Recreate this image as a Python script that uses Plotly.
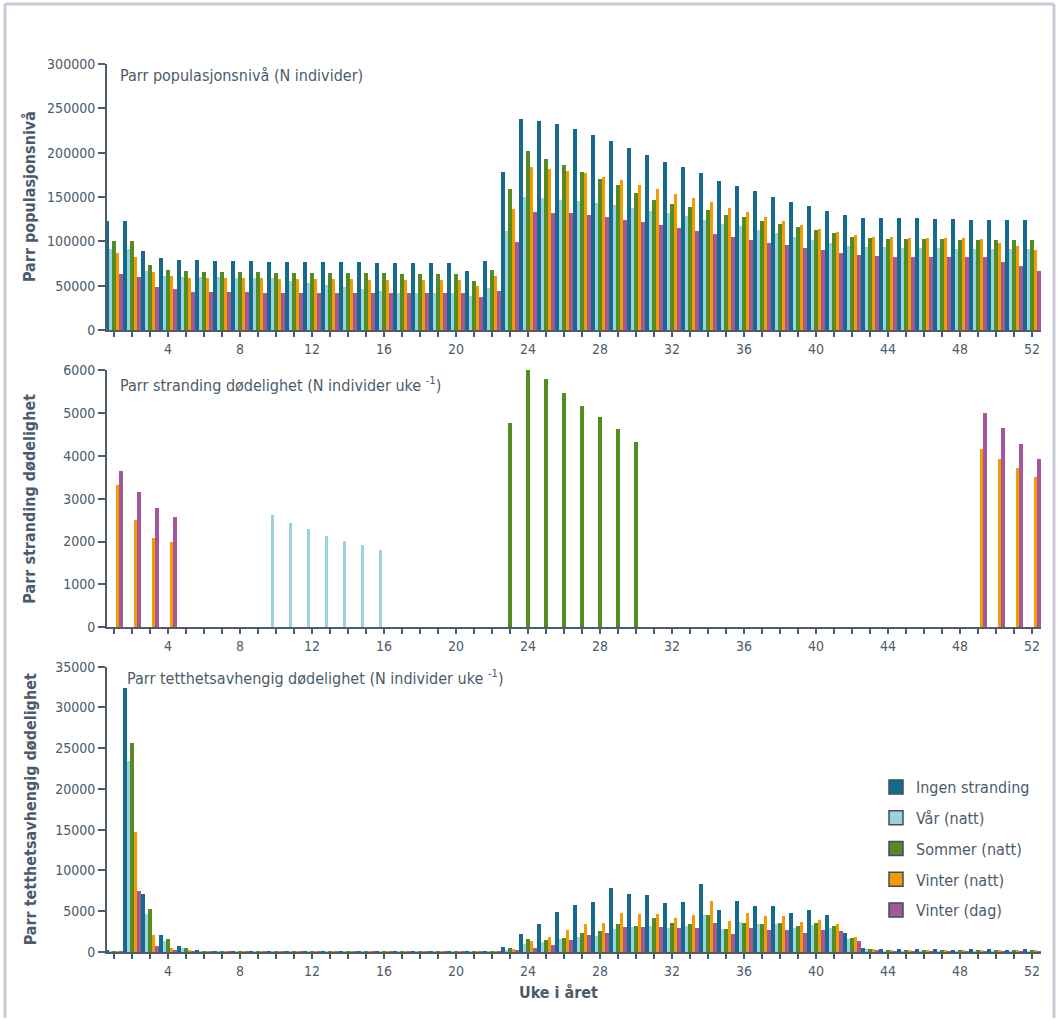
import plotly.graph_objects as go

# ---------------- data ----------------
weeks = list(range(1, 53))
series_names = ["Ingen stranding", "Vår (natt)", "Sommer (natt)", "Vinter (natt)", "Vinter (dag)"]
series_colors = ["#156b8b", "#9bd3dc", "#548b23", "#f59b00", "#a6569b"]

# Parr population level (N individuals)
pop_ingen = [123000, 123000, 89200, 81300, 79000, 79000, 77900, 77900, 77900, 76800,
             76800, 76800, 76800, 76800, 76800, 75700, 75700, 75700, 75700, 75700,
             66600, 77900, 178400, 238300, 236000, 232600, 227000, 220200, 213400, 205500,
             197600, 189700, 184100, 177300, 168300, 162600, 157000, 150200, 144500, 140000,
             134400, 129900, 126500, 126500, 126500, 126500, 125300, 125300, 124200, 124200,
             124200, 124200]
pop_var = [91500, 91500, 66600, 61000, 59800, 59800, 59800, 58700, 58700, 58700,
           55300, 53100, 50800, 48600, 46300, 44000, 41800, 41800, 41800, 41800,
           38400, 47400, 111800, 150200, 149100, 146800, 145700, 143400, 141200, 137800,
           134400, 132100, 128700, 124200, 119700, 117400, 112900, 109500, 105000, 101600,
           98200, 94900, 93700, 93700, 92600, 92600, 92600, 91500, 91500, 91500,
           91500, 91500]
pop_sommer = [100500, 100500, 73400, 67800, 66600, 65500, 65500, 65500, 65500, 64400,
              64400, 64400, 64400, 64400, 64400, 64400, 63200, 63200, 63200, 63200,
              55300, 67800, 159200, 202100, 193100, 186300, 178400, 170500, 163700, 154700,
              146800, 142300, 138900, 135500, 129900, 127600, 123100, 119700, 116300, 112900,
              109500, 105000, 103900, 102800, 102800, 102800, 102800, 101600, 101600, 101600,
              101600, 101600]
pop_vinter_natt = [86900, 82400, 65500, 61000, 58700, 58700, 58700, 58700, 58700, 57600,
                   57600, 57600, 57600, 57600, 56500, 56500, 56500, 56500, 56500, 56500,
                   49700, 61000, 136600, 184100, 181800, 179500, 177300, 172800, 169400, 163700,
                   159200, 153600, 149100, 144500, 137800, 133300, 127600, 123100, 118600, 114000,
                   110700, 107300, 105000, 105000, 103900, 103900, 103900, 103900, 102800, 98200,
                   94900, 90300]
pop_vinter_dag = [63600, 59800, 48600, 46300, 42900, 42900, 42900, 42900, 41800, 41800,
                  41800, 41800, 41800, 41800, 41800, 41800, 41800, 41800, 41800, 41800,
                  37300, 44000, 99400, 133300, 132100, 132100, 129900, 127600, 124200, 122000,
                  118600, 115200, 111800, 108400, 105000, 101600, 98200, 96000, 92600, 90300,
                  87000, 84700, 83600, 82400, 82400, 82400, 82400, 82400, 82400, 76800,
                  72300, 66600]

# Parr stranding mortality (N individuals per week)
str_ingen = [0] * 52
str_var = [0, 0, 0, 0, 0, 0, 0, 0, 0, 2620,
           2430, 2290, 2130, 2010, 1920, 1800, 0, 0, 0, 0,
           0, 0, 0, 0, 0, 0, 0, 0, 0, 0,
           0, 0, 0, 0, 0, 0, 0, 0, 0, 0,
           0, 0, 0, 0, 0, 0, 0, 0, 0, 0,
           0, 0]
str_sommer = [0, 0, 0, 0, 0, 0, 0, 0, 0, 0,
              0, 0, 0, 0, 0, 0, 0, 0, 0, 0,
              0, 0, 4760, 6160, 5790, 5460, 5160, 4900, 4620, 4320,
              0, 0, 0, 0, 0, 0, 0, 0, 0, 0,
              0, 0, 0, 0, 0, 0, 0, 0, 0, 0,
              0, 0]
str_vinter_natt = [3320, 2500, 2080, 1990, 0, 0, 0, 0, 0, 0,
                   0, 0, 0, 0, 0, 0, 0, 0, 0, 0,
                   0, 0, 0, 0, 0, 0, 0, 0, 0, 0,
                   0, 0, 0, 0, 0, 0, 0, 0, 0, 0,
                   0, 0, 0, 0, 0, 0, 0, 0, 4160, 3925,
                   3715, 3505]
str_vinter_dag = [3645, 3155, 2780, 2575, 0, 0, 0, 0, 0, 0,
                  0, 0, 0, 0, 0, 0, 0, 0, 0, 0,
                  0, 0, 0, 0, 0, 0, 0, 0, 0, 0,
                  0, 0, 0, 0, 0, 0, 0, 0, 0, 0,
                  0, 0, 0, 0, 0, 0, 0, 0, 5000, 4650,
                  4275, 3925]

# Parr density-dependent mortality (N individuals per week)
dd_ingen = [290, 32400, 7150, 2120, 780, 290, 180, 160, 160, 160,
            160, 160, 160, 200, 160, 160, 160, 160, 160, 200,
            160, 160, 650, 2250, 3470, 4940, 5800, 6170, 7880, 7150,
            7020, 6040, 6170, 8370, 5190, 6290, 5680, 5680, 4820, 5190,
            4570, 2370, 530, 400, 400, 350, 400, 300, 350, 400,
            300, 400]
dd_var = [80, 23440, 4700, 1390, 530, 150, 80, 80, 80, 80,
          80, 80, 80, 80, 80, 80, 80, 80, 80, 80,
          80, 80, 290, 1020, 1270, 1630, 1880, 2000, 2860, 3100,
          3230, 2980, 3230, 4570, 2860, 3720, 3470, 3470, 2980, 3350,
          2980, 1630, 410, 200, 200, 200, 200, 200, 200, 200,
          200, 200]
dd_sommer = [150, 25650, 5310, 1630, 530, 130, 100, 100, 100, 100,
             100, 100, 100, 100, 100, 100, 100, 100, 100, 100,
             100, 100, 530, 1630, 1510, 1760, 2370, 2610, 3470, 3230,
             4210, 3590, 3470, 4570, 2860, 3590, 3470, 3590, 3230, 3590,
             3230, 1760, 410, 300, 300, 300, 300, 300, 300, 300,
             300, 300]
dd_vinter_natt = [150, 14740, 2120, 530, 290, 120, 100, 100, 100, 100,
                  100, 100, 100, 100, 100, 100, 100, 100, 100, 100,
                  100, 100, 410, 1390, 1880, 2740, 3470, 3590, 4820, 4700,
                  4700, 4210, 4570, 6290, 3840, 4820, 4450, 4450, 3720, 3960,
                  3470, 1880, 410, 250, 250, 250, 250, 250, 250, 250,
                  250, 250]
dd_vinter_dag = [150, 7520, 780, 290, 160, 100, 80, 80, 80, 80,
                 80, 80, 80, 80, 80, 80, 80, 80, 80, 80,
                 80, 80, 290, 530, 900, 1510, 2120, 2370, 3100, 3100,
                 3100, 2980, 2980, 3590, 2250, 2980, 2740, 2740, 2370, 2740,
                 2610, 1390, 290, 200, 200, 200, 200, 200, 200, 200,
                 200, 200]

panel_titles = ["Parr populasjonsnivå (N individer)",
                "Parr stranding dødelighet (N individer uke <sup>-1</sup>)",
                "Parr tetthetsavhengig dødelighet (N individer uke <sup>-1</sup>)"]
axis_titles = ["Parr populasjonsnivå", "Parr stranding dødelighet", "Parr tetthetsavhengig dødelighet"]
x_title = "Uke i året"
tick_weeks = [4, 8, 12, 16, 20, 24, 28, 32, 36, 40, 44, 48, 52]
y_ranges = [[0, 300000], [0, 6000], [0, 35000]]
y_dtick = [50000, 1000, 5000]

panels = [
    [pop_ingen, pop_var, pop_sommer, pop_vinter_natt, pop_vinter_dag],
    [str_ingen, str_var, str_sommer, str_vinter_natt, str_vinter_dag],
    [dd_ingen, dd_var, dd_sommer, dd_vinter_natt, dd_vinter_dag],
]

# ---------------- layout geometry ----------------
W, H = 1057, 1020
L, R, T, B = 107, 16, 64, 68
PW, PH = W - L - R, H - T - B


def fx(px):
    return (px - L) / PW


def fy(py):
    return (H - B - py) / PH


# vertical extents (pixel rows) of the three panels
panel_rows = [(64, 330), (370, 627.3), (666.7, 952)]
domains = [[fy(b), fy(t)] for t, b in panel_rows]

FONT = "DejaVu Sans Condensed, Liberation Sans Narrow, Roboto Condensed, Arial Narrow, sans-serif"
TXT = "#4b5b6b"
AX = "#4d5d6c"

fig = go.Figure()

for p, series in enumerate(panels):
    ax = "" if p == 0 else str(p + 1)
    for name, color, vals in zip(series_names, series_colors, series):
        fig.add_trace(go.Bar(
            x=weeks, y=vals, name=name,
            marker=dict(color=color, line=dict(width=0)),
            xaxis="x" + ax, yaxis="y" + ax, showlegend=False,
        ))

# legend entries (square swatches with dark outline)
for name, color in zip(series_names, series_colors):
    fig.add_trace(go.Scatter(
        x=[None], y=[None], mode="markers", name=name, legendgroup=name,
        marker=dict(symbol="square", size=14, color=color, line=dict(color="#3e4e5e", width=1.5)),
        xaxis="x3", yaxis="y3", showlegend=True,
    ))

layout = dict(
    width=W, height=H,
    margin=dict(l=L, r=R, t=T, b=B),
    paper_bgcolor="white", plot_bgcolor="white",
    barmode="group", bargap=0, bargroupgap=0,
    font=dict(family=FONT, color=TXT, size=14),
    showlegend=True,
    legend=dict(
        x=fx(876), y=fy(770), xanchor="left", yanchor="top",
        font=dict(family=FONT, size=16, color=TXT),
        bgcolor="rgba(0,0,0,0)", traceorder="grouped", tracegroupgap=7, itemwidth=30,
    ),
)

for p in range(3):
    key = "" if p == 0 else str(p + 1)
    layout["xaxis" + key] = dict(
        domain=[0, 1], anchor="y" + key, range=[0.61, 52.5],
        tickmode="array", tickvals=tick_weeks,
        ticks="outside", ticklen=5, tickwidth=1.5, tickcolor=AX,
        minor=dict(tickmode="linear", tick0=1, dtick=1, ticks="outside",
                   ticklen=5, tickwidth=1.5, tickcolor=AX, showgrid=False),
        showline=True, linecolor=AX, linewidth=2,
        showgrid=False, zeroline=False,
        tickfont=dict(family=FONT, size=14, color=TXT),
    )
    layout["yaxis" + key] = dict(
        domain=domains[p], anchor="x" + key, range=y_ranges[p],
        tick0=0, dtick=y_dtick[p], tickformat="d",
        ticks="outside", ticklen=7, tickwidth=1.5, tickcolor=AX,
        showline=True, linecolor=AX, linewidth=2,
        showgrid=False, zeroline=False,
        tickfont=dict(family=FONT, size=14, color=TXT),
    )

annotations = []
title_pos = [(118, 75), (118, 384), (125, 677)]
for (tx, ty), text in zip(title_pos, panel_titles):
    annotations.append(dict(
        text=text, xref="paper", yref="paper", x=fx(tx), y=fy(ty),
        xanchor="left", yanchor="middle", showarrow=False,
        font=dict(family=FONT, size=16, color=TXT),
    ))
for (t, b), text in zip(panel_rows, axis_titles):
    annotations.append(dict(
        text="<b>" + text + "</b>", xref="paper", yref="paper",
        x=fx(30), y=fy((t + b) / 2), xanchor="center", yanchor="middle",
        textangle=-90, showarrow=False,
        font=dict(family=FONT, size=16, color=TXT),
    ))
annotations.append(dict(
    text="<b>" + x_title + "</b>", xref="paper", yref="paper",
    x=fx(558), y=fy(992), xanchor="center", yanchor="middle", showarrow=False,
    font=dict(family=FONT, size=16, color=TXT),
))
layout["annotations"] = annotations

# light frame around the whole figure
FRAME = "#c6ccd6"
layout["shapes"] = [
    dict(type="line", xref="paper", yref="paper", x0=fx(5), x1=fx(5), y0=fy(4), y1=fy(1018),
         line=dict(color=FRAME, width=3)),
    dict(type="line", xref="paper", yref="paper", x0=fx(5), x1=fx(1054), y0=fy(4), y1=fy(4),
         line=dict(color=FRAME, width=3)),
    dict(type="line", xref="paper", yref="paper", x0=fx(1054), x1=fx(1054), y0=fy(4), y1=fy(1018),
         line=dict(color=FRAME, width=3)),
]

fig.update_layout(**layout)
fig.write_html("out.html")
